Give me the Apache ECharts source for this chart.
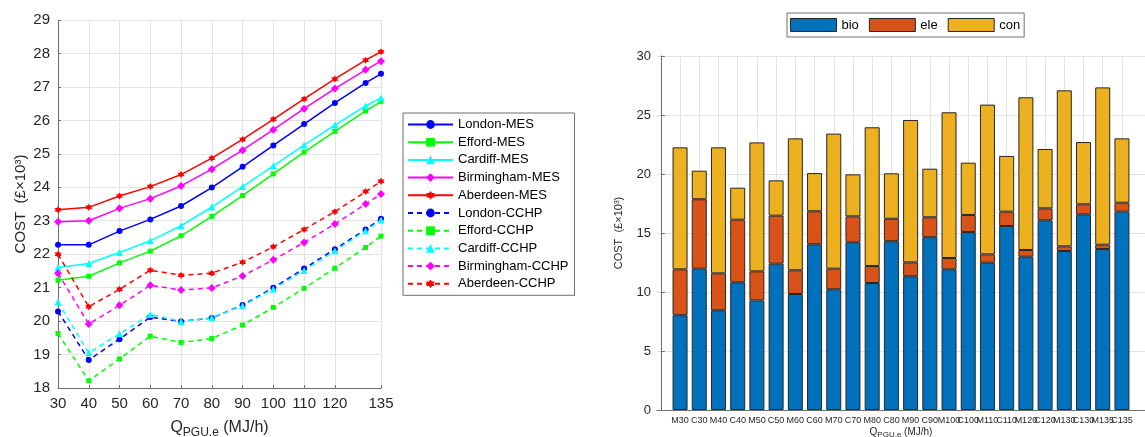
<!DOCTYPE html>
<html><head><meta charset="utf-8">
<script src="https://cdn.jsdelivr.net/npm/echarts@6/dist/echarts.min.js"></script>
<style>html,body{margin:0;padding:0;background:#fff}#c{width:1145px;height:437px}</style>
</head><body><div id="c"></div>
<script>
// ---- Left chart data ----
const xVals = [30,40,50,60,70,80,90,100,110,120,130,135];
const xTickVals = [30,40,50,60,70,80,90,100,110,120,135];
const londonMES     = [22.28,22.28,22.69,23.04,23.44,23.99,24.61,25.25,25.89,26.52,27.12,27.39];
const effordMES     = [21.22,21.34,21.74,22.09,22.55,23.13,23.75,24.40,25.05,25.67,26.28,26.56];
const cardiffMES    = [21.60,21.72,22.05,22.40,22.85,23.41,24.02,24.64,25.26,25.86,26.43,26.67];
const birminghamMES = [22.97,23.00,23.37,23.66,24.04,24.54,25.11,25.72,26.35,26.95,27.51,27.77];
const aberdeenMES   = [23.33,23.40,23.74,24.02,24.38,24.87,25.43,26.03,26.64,27.24,27.80,28.05];
const londonCCHP     = [20.29,18.84,19.46,20.12,19.99,20.09,20.48,21.00,21.57,22.15,22.74,23.06];
const effordCCHP     = [19.63,18.22,18.87,19.55,19.36,19.48,19.88,20.41,20.98,21.58,22.20,22.54];
const cardiffCCHP    = [20.57,19.05,19.62,20.20,19.99,20.10,20.46,20.96,21.51,22.10,22.70,23.02];
const birminghamCCHP = [21.43,19.91,20.47,21.07,20.93,20.99,21.35,21.83,22.35,22.90,23.50,23.80];
const aberdeenCCHP   = [22.00,20.43,20.95,21.52,21.37,21.43,21.76,22.22,22.74,23.27,23.87,24.18];

// ---- Right chart data ----
const barCats = ['M30','C30','M40','C40','M50','C50','M60','C60','M70','C70','M80','C80','M90','C90','M100','C100','M110','C110','M120','C120','M130','C130','M135','C135'];
const bio = [8.03,11.98,8.45,10.82,9.29,12.40,9.83,14.04,10.23,14.21,10.76,14.30,11.33,14.64,11.92,15.08,12.48,15.59,12.99,16.07,13.47,16.58,13.64,16.81];
const ele = [3.89,5.88,3.13,5.31,2.46,4.07,2.01,2.80,1.75,2.20,1.44,1.91,1.18,1.69,0.96,1.45,0.71,1.22,0.57,1.02,0.40,0.85,0.37,0.76];
const con = [10.34,2.42,10.68,2.71,10.93,2.99,11.18,3.24,11.44,3.56,11.76,3.85,12.07,4.12,12.35,4.43,12.69,4.72,12.94,5.03,13.22,5.28,13.33,5.45];

const FONT = 'Liberation Sans, Arial, sans-serif';
const star = 'path://M0,-10 L2.9,-5 L8.66,-5 L5.8,0 L8.66,5 L2.9,5 L0,10 L-2.9,5 L-8.66,5 L-5.8,0 L-8.66,-5 L-2.9,-5 Z';
const defs = [
  ['London', '#0000FF', 'circle', 6, londonMES, londonCCHP],
  ['Efford', '#00FF00', 'rect', 5, effordMES, effordCCHP],
  ['Cardiff', '#00FFFF', 'triangle', 7, cardiffMES, cardiffCCHP],
  ['Birmingham', '#FF00FF', 'diamond', 8, birminghamMES, birminghamCCHP],
  ['Aberdeen', '#FF0000', star, 7, aberdeenMES, aberdeenCCHP]
];
const lineSeries = [];
const legendNames = [];
[0,1].forEach(k => {
  defs.forEach(d => {
    const name = d[0] + (k === 0 ? '-MES' : '-CCHP');
    legendNames.push(name);
    lineSeries.push({
      name, type: 'line', xAxisIndex: 0, yAxisIndex: 0,
      data: xVals.map((x, i) => [x, (k === 0 ? d[4] : d[5])[i]]),
      symbol: d[2], symbolSize: d[3], showSymbol: true,
      lineStyle: { color: d[1], width: 1.5, type: k === 0 ? 'solid' : [5, 4] },
      itemStyle: { color: d[1] },
      emphasis: { disabled: true }, animation: false
    });
  });
});
const barColors = { bio: '#0072BD', ele: '#D95319', con: '#EDB120' };
const barSeries = [['bio', bio], ['ele', ele], ['con', con]].map(([n, arr]) => ({
  name: n, type: 'bar', stack: 'tot', xAxisIndex: 2, yAxisIndex: 2,
  data: arr, barWidth: 15,
  itemStyle: { color: barColors[n], borderColor: '#262626', borderWidth: 1 },
  emphasis: { disabled: true }, animation: false
}));

const axisCol = '#6e6e6e';
const gridCol = '#e3e3e3';
// right frame: value range -0.2..25.2 across 488px, bars grid aligned so category centers hit 1..24
const frameL = 657, frameW = 488, lo = -0.2, hi = 25.2;
const unit = frameW / (hi - lo);
const barsL = frameL + (0.5 - lo) * unit;
const barsW = barCats.length * unit;
const tickIdx = barCats.map((c, i) => i + 1);
const mIdx = tickIdx.filter(v => v % 2 === 1);

const chart = echarts.init(document.getElementById('c'));
chart.setOption({
  animation: false,
  textStyle: { fontFamily: FONT },
  grid: [
    { left: 58, top: 20, width: 323, height: 368, outerBoundsMode: 'none', containLabel: false },
    { left: frameL, top: 56, width: frameW, height: 354, outerBoundsMode: 'none', containLabel: false },
    { left: barsL, top: 56, width: barsW, height: 354, outerBoundsMode: 'none', containLabel: false }
  ],
  legend: [
    { data: legendNames, orient: 'vertical', left: 403, top: 113, itemWidth: 45, itemHeight: 11, itemGap: 4.7,
      padding: [5, 6, 5, 4], borderColor: '#6e6e6e', borderWidth: 1,
      textStyle: { fontSize: 13, color: '#000', fontFamily: FONT }, selectedMode: false },
    { data: ['bio', 'ele', 'con'], orient: 'horizontal', left: 787, top: 13, itemWidth: 46, itemHeight: 13, itemGap: 10,
      icon: 'rect',
      padding: [5, 4, 5, 3], borderColor: '#6e6e6e', borderWidth: 1,
      textStyle: { fontSize: 13, color: '#000', fontFamily: FONT }, selectedMode: false,
      itemStyle: { borderColor: '#262626', borderWidth: 1 } }
  ],
  xAxis: [
    { type: 'value', gridIndex: 0, min: 30, max: 135,
      axisLine: { show: true, lineStyle: { color: axisCol } },
      axisTick: { show: true, inside: true, length: 3, lineStyle: { color: axisCol }, customValues: xTickVals },
      axisLabel: { fontSize: 15, color: '#262626', margin: 8, customValues: xTickVals, fontFamily: FONT,
        showMinLabel: true, showMaxLabel: true },
      splitLine: { show: true, lineStyle: { color: gridCol } },
      name: '{a|Q}{s|PGU.e}{a| (MJ/h)}', nameLocation: 'middle', nameGap: 30,
      nameTextStyle: { rich: { a: { fontSize: 16, color: '#262626', fontFamily: FONT, lineHeight: 20 },
        s: { fontSize: 12, color: '#262626', fontFamily: FONT, padding: [10, 0, 0, 0], lineHeight: 20 } } } },
    { type: 'value', gridIndex: 1, min: lo, max: hi,
      axisLine: { show: true, lineStyle: { color: axisCol } },
      axisTick: { show: false, customValues: tickIdx },
      axisLabel: { fontSize: 9, color: '#262626', margin: 6, customValues: mIdx,
        showMinLabel: true, showMaxLabel: true, hideOverlap: false,
        formatter: v => barCats[Math.round(v) - 1] || '', fontFamily: FONT },
      splitLine: { show: true, lineStyle: { color: gridCol } },
      name: '{a|Q}{s|PGU.e}{a| (MJ/h)}', nameLocation: 'middle', nameGap: 16, nameMoveOverlap: false,
      nameTextStyle: { rich: { a: { fontSize: 10, color: '#262626', fontFamily: FONT, lineHeight: 12 },
        s: { fontSize: 8, color: '#262626', fontFamily: FONT, padding: [6, 0, 0, 0], lineHeight: 12 } } } },
    { type: 'category', gridIndex: 2, data: barCats, boundaryGap: true,
      axisLine: { show: false }, axisTick: { show: false }, splitLine: { show: false },
      axisLabel: { show: true, fontSize: 9, color: '#262626', margin: 6, fontFamily: FONT,
        interval: (idx) => idx % 2 === 1, hideOverlap: false } }
  ],
  yAxis: [
    { type: 'value', gridIndex: 0, min: 18, max: 29, interval: 1,
      axisLine: { show: true, lineStyle: { color: axisCol } },
      axisTick: { show: true, inside: true, length: 3, lineStyle: { color: axisCol } },
      axisLabel: { fontSize: 15, color: '#262626', margin: 8, fontFamily: FONT },
      splitLine: { show: true, lineStyle: { color: gridCol } },
      name: 'COST  (£×10³)', nameLocation: 'middle', nameGap: 30,
      nameTextStyle: { fontSize: 15, color: '#262626', fontFamily: FONT } },
    { type: 'value', gridIndex: 1, min: 0, max: 30, interval: 5,
      axisLine: { show: true, lineStyle: { color: axisCol } },
      axisTick: { show: true, inside: true, length: 4, lineStyle: { color: axisCol } },
      axisLabel: { fontSize: 13, color: '#262626', margin: 6, fontFamily: FONT },
      splitLine: { show: true, lineStyle: { color: gridCol } },
      name: 'COST  (£×10³)', nameLocation: 'middle', nameGap: 33,
      nameTextStyle: { fontSize: 11, color: '#262626', fontFamily: FONT } },
    { type: 'value', gridIndex: 2, min: 0, max: 30, interval: 5, show: false }
  ],
  series: lineSeries.concat(barSeries)
});
</script></body></html>
